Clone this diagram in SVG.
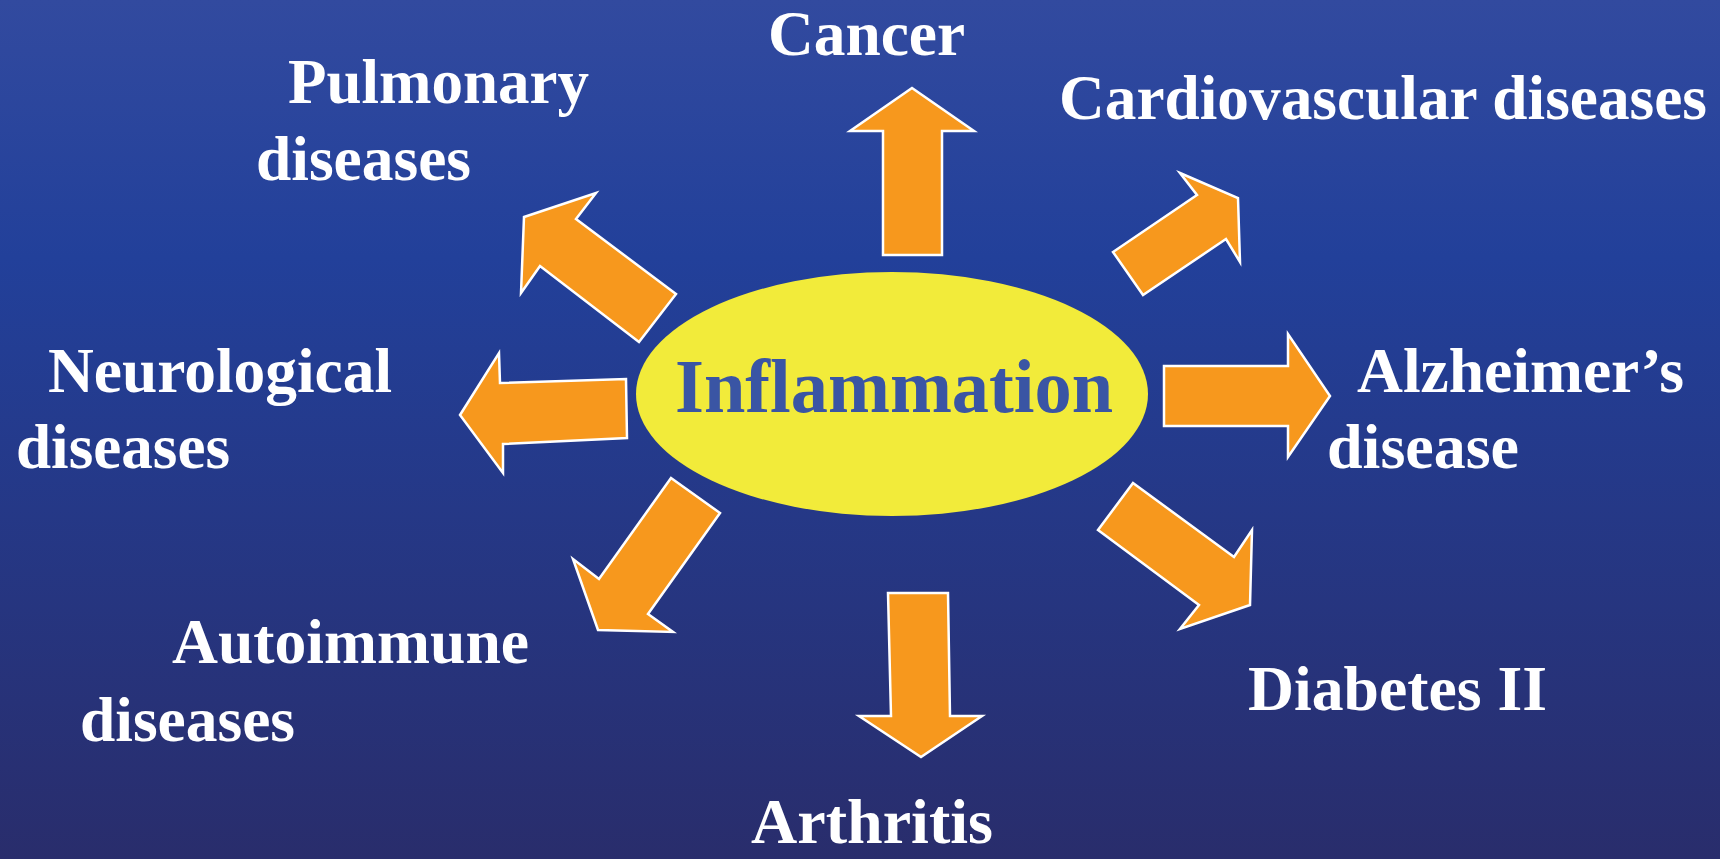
<svg xmlns="http://www.w3.org/2000/svg" width="1720" height="859" viewBox="0 0 1720 859">
<defs>
<linearGradient id="bg" x1="0" y1="0" x2="0" y2="1">
<stop offset="0" stop-color="#324a9f"/>
<stop offset="0.3" stop-color="#22409a"/>
<stop offset="1" stop-color="#292d6c"/>
</linearGradient>
<style>
.arr{fill:#f7981d;stroke:#ffffff;stroke-width:2.5;stroke-linejoin:miter}
.lbl{font-family:"Liberation Serif","Times New Roman",serif;font-weight:bold;font-size:64px;fill:#ffffff}
.core{font-family:"Liberation Serif","Times New Roman",serif;font-weight:bold;font-size:77px;fill:#3a55a4}
</style>
</defs>
<rect x="0" y="0" width="1720" height="859" fill="url(#bg)"/>
<g id="connectors">
<polygon class="arr" points="524,217 596,193 576,219 676,294 639,342 540,266 521,293"/>
<polygon class="arr" points="912,88 974,131 942,131 942,255 883,255 883,131 850,131"/>
<polygon class="arr" points="1180,173 1238,198 1240,262 1226,239 1143,295 1113,252 1197,195"/>
<polygon class="arr" points="460,415 499,353 500,383 626,379 627,438 503,444 503,473"/>
<polygon class="arr" points="1164,366 1288,366 1288,334 1330,396 1288,457 1288,426 1164,426"/>
<polygon class="arr" points="671,478 720,513 648,614 673,632 598,630 573,559 599,579"/>
<polygon class="arr" points="1133,483 1234,557 1252,530 1250,605 1180,629 1199,605 1098,530"/>
<polygon class="arr" points="888,593 948,593 950,716 982,716 921,757 859,716 891,716"/>
</g>
<g id="inflammation">
<ellipse cx="892" cy="394" rx="256" ry="122" fill="#f2eb3a"/>
<text class="core" x="675" y="412" textLength="438" lengthAdjust="spacingAndGlyphs">Inflammation</text>
</g>
<g id="cancer"><text class="lbl" x="768" y="55" textLength="197" lengthAdjust="spacingAndGlyphs">Cancer</text></g>
<g id="pulmonary">
<text class="lbl" x="288" y="103" textLength="301" lengthAdjust="spacingAndGlyphs">Pulmonary</text>
<text class="lbl" x="256" y="180" textLength="215" lengthAdjust="spacingAndGlyphs">diseases</text>
</g>
<g id="cardiovascular"><text class="lbl" x="1059" y="119" textLength="648" lengthAdjust="spacingAndGlyphs">Cardiovascular diseases</text></g>
<g id="neurological">
<text class="lbl" x="48" y="392" textLength="344" lengthAdjust="spacingAndGlyphs">Neurological</text>
<text class="lbl" x="16" y="468" textLength="214" lengthAdjust="spacingAndGlyphs">diseases</text>
</g>
<g id="alzheimers">
<text class="lbl" x="1357" y="392" textLength="327" lengthAdjust="spacingAndGlyphs">Alzheimer’s</text>
<text class="lbl" x="1327" y="468" textLength="192" lengthAdjust="spacingAndGlyphs">disease</text>
</g>
<g id="autoimmune">
<text class="lbl" x="172" y="663" textLength="357" lengthAdjust="spacingAndGlyphs">Autoimmune</text>
<text class="lbl" x="80" y="741" textLength="215" lengthAdjust="spacingAndGlyphs">diseases</text>
</g>
<g id="diabetes"><text class="lbl" x="1248" y="710" textLength="299" lengthAdjust="spacingAndGlyphs">Diabetes II</text></g>
<g id="arthritis"><text class="lbl" x="751" y="843" textLength="242" lengthAdjust="spacingAndGlyphs">Arthritis</text></g>
</svg>
